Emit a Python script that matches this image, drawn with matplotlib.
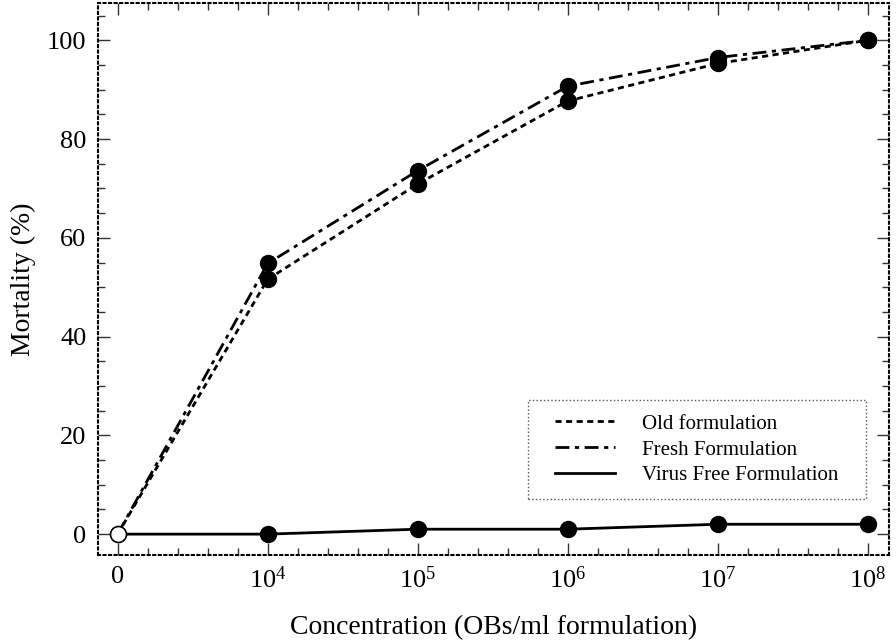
import matplotlib
matplotlib.use("Agg")
import matplotlib.pyplot as plt
from matplotlib.ticker import MultipleLocator
from matplotlib.patches import Rectangle

plt.rcParams['font.family'] = ['Liberation Serif', 'DejaVu Serif']
plt.rcParams['mathtext.fontset'] = 'custom'
plt.rcParams['mathtext.rm'] = 'Liberation Serif'
plt.rcParams['mathtext.it'] = 'Liberation Serif:italic'

categories = ['0', r'$\mathregular{10^{4}}$', r'$\mathregular{10^{5}}$', r'$\mathregular{10^{6}}$',
              r'$\mathregular{10^{7}}$', r'$\mathregular{10^{8}}$']
old_form = [0, 51.6, 70.9, 87.7, 95.3, 100]
fresh_form = [0, 54.8, 73.6, 90.7, 96.5, 100]
virus_free = [0, 0, 1, 1, 2, 2]

x = list(range(len(categories)))

fig = plt.figure(figsize=(8.96, 6.44), dpi=100)
ax = fig.add_axes([0.109, 0.138, 0.883, 0.857])

ms = 11.5
l1, = ax.plot(x, old_form, color='black', lw=2, linestyle=(0, (2.2, 1.6)),
              label='Old formulation', zorder=2)
l2, = ax.plot(x, fresh_form, color='black', lw=2, linestyle=(0, (5, 2, 1.5, 2)),
              label='Fresh Formulation', zorder=2)
l3, = ax.plot(x, virus_free, color='black', lw=2, linestyle='-',
              label='Virus Free Formulation', zorder=2)
for s in (old_form, fresh_form, virus_free):
    ax.plot(x[1:], s[1:], 'o', color='black', ms=ms, zorder=3)
ax.plot([x[0]], [virus_free[0]], 'o', mfc='white', mec='black', mew=1.2, ms=ms, zorder=4)

ax.set_xlim(-0.133, 5.14)
ax.set_ylim(-4.25, 107.5)
ax.set_xticks(x)
ax.set_xticklabels(categories)
ax.xaxis.set_minor_locator(MultipleLocator(0.2))
ax.yaxis.set_major_locator(MultipleLocator(20))
ax.yaxis.set_minor_locator(MultipleLocator(5))

ax.tick_params(which='both', direction='in', top=True, right=True, labelsize=19, width=1, color='#333333')
ax.tick_params(which='major', length=8.5, pad=8)
ax.tick_params(which='minor', length=5)
for sp in ax.spines.values():
    sp.set_linestyle(':')
    sp.set_linewidth(1.5)

ax.set_xlabel('Concentration (OBs/ml formulation)', fontsize=20, labelpad=16)
ax.set_ylabel('Mortality (%)', fontsize=20, labelpad=8)

# legend box (dotted)
ax.add_patch(Rectangle((0.5436, 0.1014), 0.4273, 0.1794, transform=ax.transAxes,
                       fill=False, edgecolor='#555555', linestyle=':', linewidth=1.0, zorder=5))
leg = ax.legend(handles=[l1, l2, l3], loc='center left', bbox_to_anchor=(0.578, 0.191),
                fontsize=15, frameon=False, handlelength=2.9,
                borderpad=0, labelspacing=0.3, handletextpad=1.3, borderaxespad=0)

fig.savefig('out.png', dpi=100)
